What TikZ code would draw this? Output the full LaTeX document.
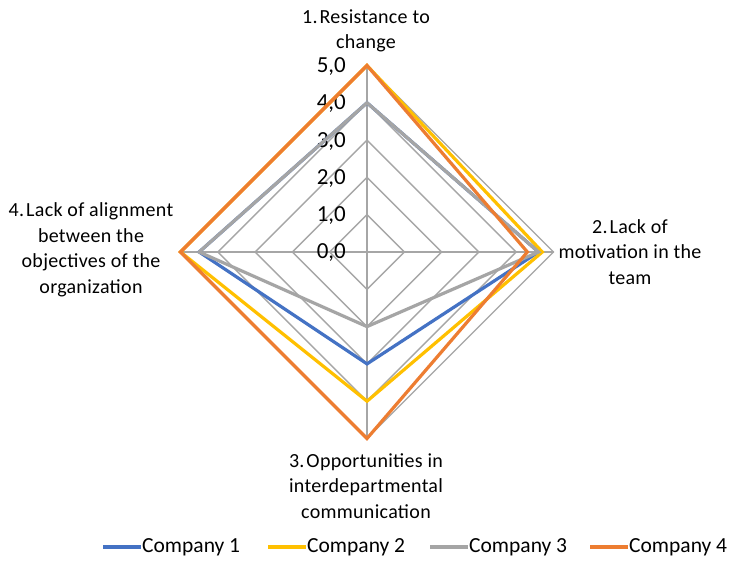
\documentclass[tikz,border=0pt]{standalone}
\usepackage{fontspec}
\setmainfont{Carlito}
\newfontfamily\spaced[LetterSpace=1.5]{Carlito}
\definecolor{cblue}{HTML}{4472C4}
\definecolor{cyellow}{HTML}{FFC000}
\definecolor{cgray}{HTML}{A5A5A5}
\definecolor{corange}{HTML}{ED7D31}
\definecolor{gridc}{HTML}{A6A6A6}
\begin{document}
\begin{tikzpicture}[x=1pt,y=-1pt,
  gridline/.style={draw=gridc,line width=1.4pt},
  series/.style={line width=3.2pt,line join=miter},
  ticklbl/.style={anchor=east,font=\fontsize{23}{24}\selectfont,inner sep=0pt},
  axislbl/.style={align=center,font=\spaced\fontsize{20}{25.5}\selectfont,inner sep=0pt},
  leglbl/.style={anchor=west,font=\fontsize{21.5}{24}\selectfont,inner sep=0pt}]
\fill[white] (0,0) rectangle (733,561);
\useasboundingbox (0,0) rectangle (733,561);
\def\cx{367}\def\cy{252}\def\u{37.3}
\coordinate (c) at (\cx,\cy);
% grid
\foreach \k in {1,...,5}{
  \draw[gridline] (\cx,{\cy-\u*\k}) -- ({\cx+\u*\k},\cy) -- (\cx,{\cy+\u*\k}) -- ({\cx-\u*\k},\cy) -- cycle;
}
\draw[gridline] (c) -- (\cx,{\cy-5*\u});
\draw[gridline] (c) -- ({\cx+5*\u},\cy);
\draw[gridline] (c) -- (\cx,{\cy+5*\u});
\draw[gridline] (c) -- ({\cx-5*\u},\cy);
% tick labels
\foreach \k in {0,...,5}{
  \node[ticklbl] (t\k) at (346,{\cy-\u*\k+1}) {\k,0};
}
% series
\newcommand\radarpath[4]{(\cx,{\cy-\u*#1}) -- ({\cx+\u*#2},\cy) -- (\cx,{\cy+\u*#3}) -- ({\cx-\u*#4},\cy) -- cycle}
\draw[series,cblue] \radarpath{4}{4.6}{3}{4.5};
\draw[series,cyellow] \radarpath{5}{4.7}{4}{5};
\draw[series,cgray] \radarpath{4}{4.6}{2}{4.5};
\draw[series,corange] \radarpath{5}{4.3}{5}{5};
% axis labels
\node[axislbl] (a1) at (366,31) {1.\kern2pt Resistance to\\change};
\node[axislbl] (a2) at (630,252) {2.\kern2pt Lack of\\motivation in the\\team};
\node[axislbl] (a3) at (366,486) {3.\kern2pt Opportunities in\\interdepartmental\\communication};
\node[axislbl] (a4) at (91,250) {4.\kern2pt Lack of alignment\\between the\\objectives of the\\organization};
% legend
\foreach \i/\col/\x in {1/cblue/103,2/cyellow/268,3/cgray/430,4/corange/590}{
  \coordinate (l\i a) at (\x,547);
  \coordinate (l\i b) at (\x+38,547);
  \draw[\col,line width=3.2pt] (l\i a) -- (l\i b);
  \node[leglbl] (lt\i) at ([xshift=1pt]l\i b) {Company \i};
}
\end{tikzpicture}
\end{document}
